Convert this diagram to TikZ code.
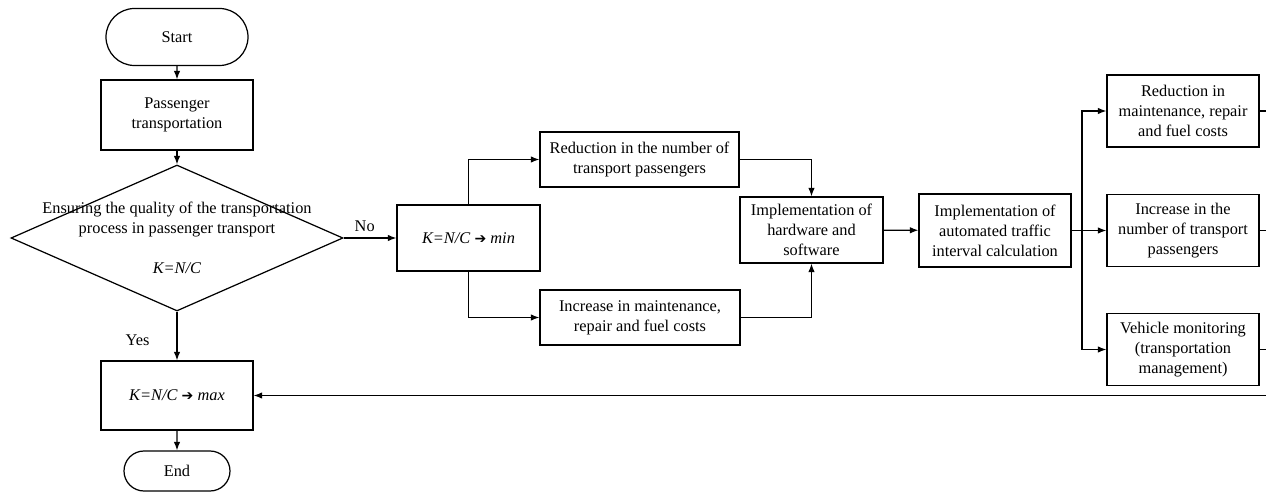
\documentclass[tikz,border=0pt]{standalone}
\usepackage{fontspec}
\setmainfont{Liberation Serif}
\newfontfamily\symfont{DejaVu Sans}
\usepackage{tikz}
\usetikzlibrary{arrows.meta,positioning,shapes.geometric,shapes.misc}
\newcommand{\goto}{{\symfont\fontsize{8}{10}\selectfont ➔}}

\begin{document}
\begin{tikzpicture}[
  line width=0.7pt,
  every node/.style={font=\fontsize{9.3}{11.3}\selectfont},
  flow/.style={-{Latex[length=1.7mm,width=1.3mm]}},
  box/.style={draw,rectangle,align=center,inner sep=0pt},
  term/.style={draw,rounded rectangle,inner sep=0pt},
  decision/.style={draw,diamond,inner sep=0pt}
]
  \useasboundingbox (0,0) rectangle (25.32,-9.88);

  % Left column.
  \node[term,minimum width=2.84cm,minimum height=1.14cm] (start) at (3.54,-0.74) {Start};
  \node[box,minimum width=3.04cm,minimum height=1.40cm] (pass) at (3.54,-2.30)
    {Passenger\\transportation};
  \node[decision,minimum width=6.64cm,minimum height=2.92cm] (cond) at (3.54,-4.76) {};
  \node[align=center] (condtext) at (cond)
    {Ensuring the quality of the transportation\\process in passenger transport\\[11.3pt]\textit{K=N/C}};
  \node[box,minimum width=3.04cm,minimum height=1.38cm] (maxbox) at (3.54,-7.91)
    {\textit{K=N/C} \goto\ \textit{max}};
  \node[term,minimum width=2.12cm,minimum height=0.80cm] (stop) at (3.54,-9.42) {End};

  \draw[flow] (start) -- (pass);
  \draw[flow] (pass) -- (cond);
  \draw[flow] (cond) -- node[pos=0.58,left=0.42cm] {Yes} (maxbox);
  \draw[flow] (maxbox) -- (stop);

  % Branch for K -> min.
  \node[box,minimum width=2.86cm,minimum height=1.32cm] (minbox) at (9.37,-4.76)
    {\textit{K=N/C} \goto\ \textit{min}};
  \node[box,minimum width=3.98cm,minimum height=1.10cm] (reduc) at (12.79,-3.19)
    {Reduction in the number of\\transport passengers};
  \node[box,minimum width=4.00cm,minimum height=1.10cm] (incr) at (12.80,-6.35)
    {Increase in maintenance,\\repair and fuel costs};
  \node[box,minimum width=2.86cm,minimum height=1.32cm] (hw) at (16.23,-4.60)
    {Implementation of\\hardware and\\software};
  \node[box,minimum width=3.04cm,minimum height=1.46cm] (autocalc) at (19.90,-4.61)
    {Implementation of\\automated traffic\\interval calculation};

  \draw[flow] (cond.east) -- node[pos=0.4,above] {No} (minbox);
  \draw[flow] (minbox) |- (reduc);
  \draw[flow] (minbox) |- (incr);
  \draw[flow] (reduc) -| (hw);
  \draw[flow] (incr) -| (hw);
  \draw[flow] (hw) -- (autocalc);

  % Results.
  \node[box,minimum width=3.04cm,minimum height=1.44cm] (cost) at (23.66,-2.22)
    {Reduction in\\maintenance, repair\\and fuel costs};
  \node[box,minimum width=3.04cm,minimum height=1.44cm] (more) at (23.66,-4.61)
    {Increase in the\\number of transport\\passengers};
  \node[box,minimum width=3.04cm,minimum height=1.44cm] (monit) at (23.66,-6.99)
    {Vehicle monitoring\\(transportation\\management)};

  \coordinate (bus) at (21.64,-4.61);
  \coordinate (rim) at (25.32,-7.91);
  \draw (autocalc) -- (bus);
  \draw[flow] (bus) |- (cost);
  \draw[flow] (bus) -- (more);
  \draw[flow] (bus) |- (monit);

  % Feedback to the left column.
  \draw (cost.east) -- (cost.east -| rim);
  \draw (more.east) -- (more.east -| rim);
  \draw (monit.east) -- (monit.east -| rim);
  \draw[flow] (rim) -- (maxbox);
\end{tikzpicture}
\end{document}
